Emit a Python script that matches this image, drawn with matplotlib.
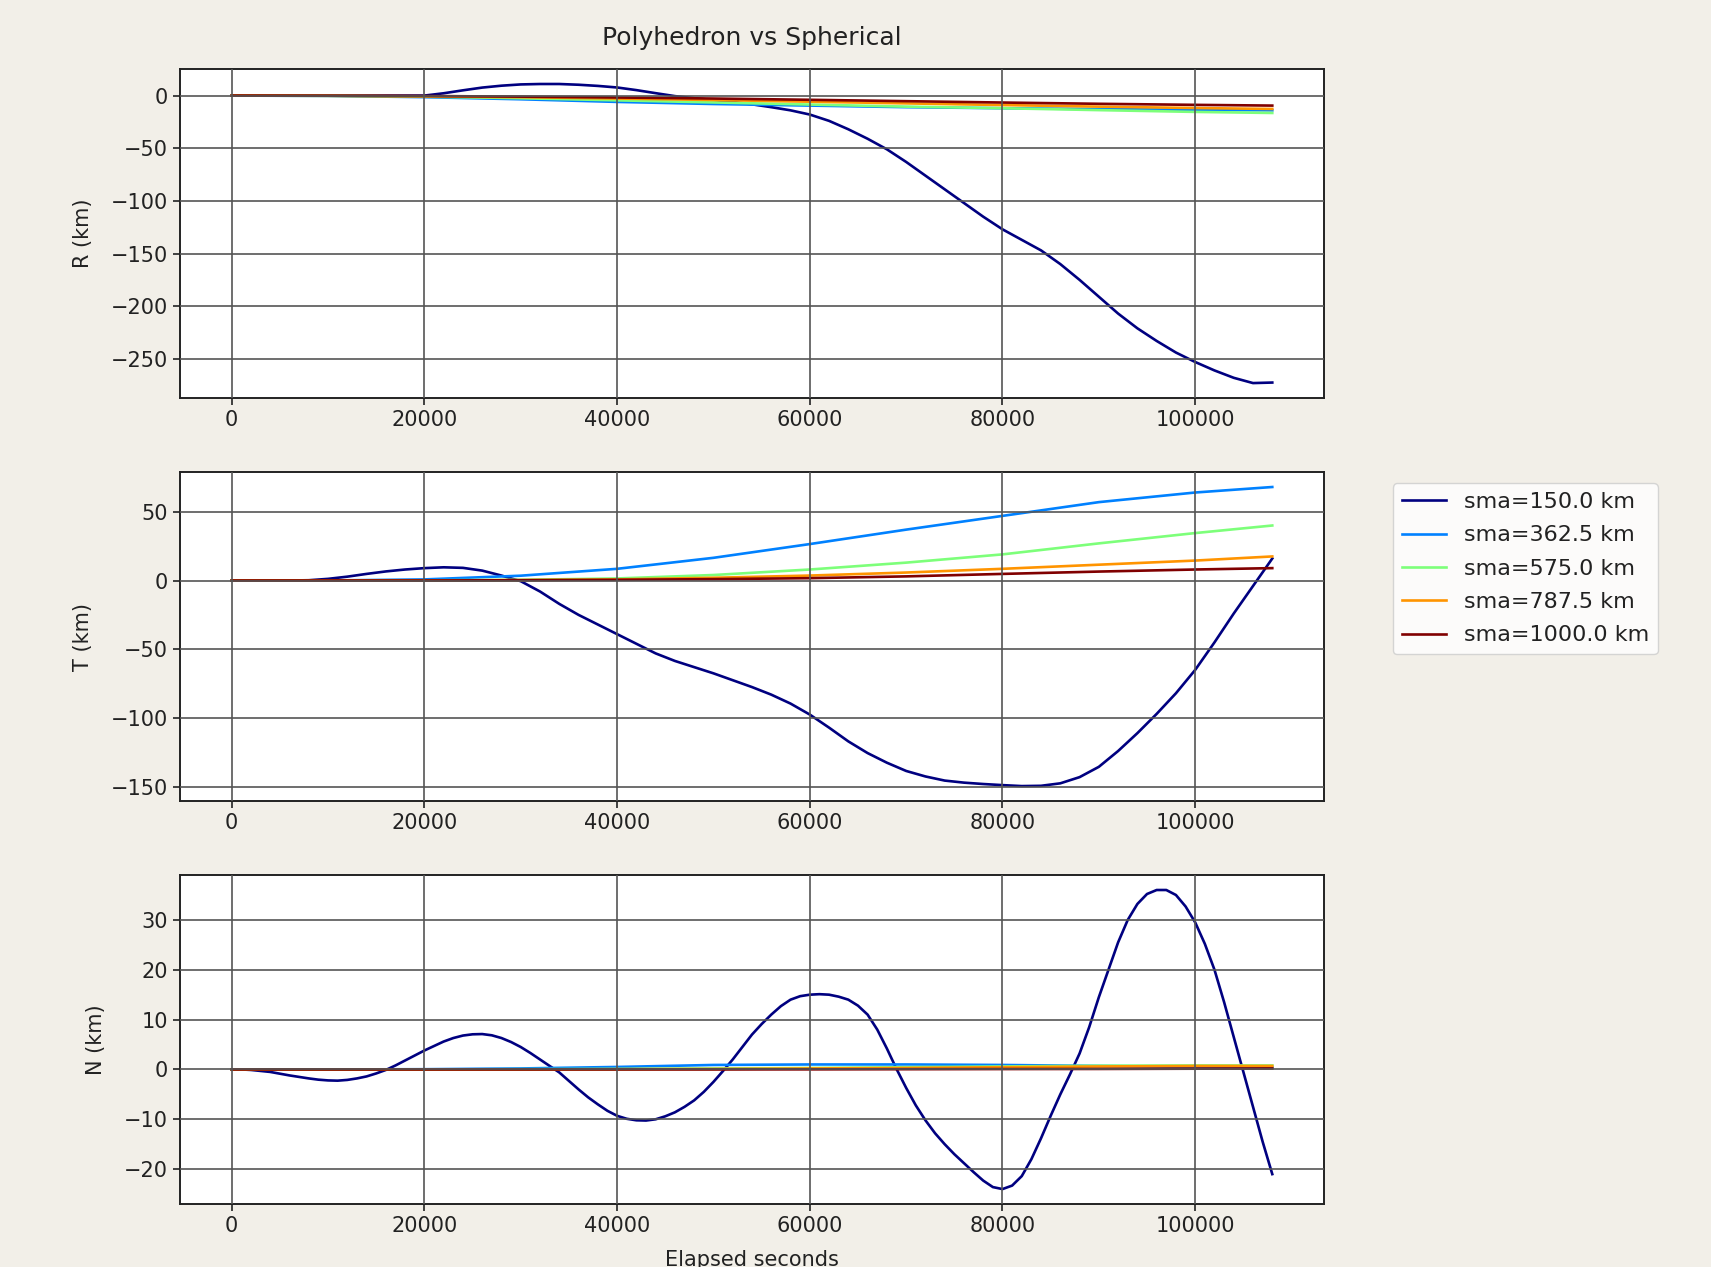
import numpy as np
import matplotlib
matplotlib.use("Agg")
import matplotlib.pyplot as plt
from matplotlib import cm

plt.rcParams['font.family'] = ['DejaVu Sans']
plt.rcParams['font.size'] = 15

# ---- data ----
sma_labels = ["sma=150.0 km", "sma=362.5 km", "sma=575.0 km", "sma=787.5 km", "sma=1000.0 km"]

t_fine = [0, 2000, 4000, 6000, 8000, 10000, 12000, 14000, 16000, 18000, 20000,
          22000, 24000, 26000, 28000, 30000, 32000, 34000, 36000, 38000, 40000,
          42000, 44000, 46000, 48000, 50000, 52000, 54000, 56000, 58000, 60000,
          62000, 64000, 66000, 68000, 70000, 72000, 74000, 76000, 78000, 80000,
          82000, 84000, 86000, 88000, 90000, 92000, 94000, 96000, 98000, 100000,
          102000, 104000, 106000, 108000]

t_n = [0, 1000, 2000, 3000, 4000, 5000, 6000, 7000, 8000, 9000,
       10000, 11000, 12000, 13000, 14000, 15000, 16000, 17000, 18000, 19000,
       20000, 21000, 22000, 23000, 24000, 25000, 26000, 27000, 28000, 29000,
       30000, 31000, 32000, 33000, 34000, 35000, 36000, 37000, 38000, 39000,
       40000, 41000, 42000, 43000, 44000, 45000, 46000, 47000, 48000, 49000,
       50000, 51000, 52000, 53000, 54000, 55000, 56000, 57000, 58000, 59000,
       60000, 61000, 62000, 63000, 64000, 65000, 66000, 67000, 68000, 69000,
       70000, 71000, 72000, 73000, 74000, 75000, 76000, 77000, 78000, 79000,
       80000, 81000, 82000, 83000, 84000, 85000, 86000, 87000, 88000, 89000,
       90000, 91000, 92000, 93000, 94000, 95000, 96000, 97000, 98000, 99000,
       100000, 101000, 102000, 103000, 104000, 105000, 106000, 107000, 108000]

t_coarse = [0, 10000, 20000, 30000, 40000, 50000, 60000, 70000, 80000, 90000, 100000, 108000]

# sma = 150 km
R_150 = [0, 0, 0, 0, 0, 0, 0, 0, 0, 0, 0,
         2.2, 5.0, 7.6, 9.4, 10.6, 11.0, 11.0, 10.3, 9.2, 7.7,
         5.2, 2.3, -0.5, -2.5, -4.2, -6.0, -8.3, -11.0, -14.0, -18.0,
         -24.0, -32.0, -41.0, -51.0, -63.0, -76.0, -89.0, -102.0, -115.0, -127.0,
         -137.0, -147.0, -160.0, -175.0, -191.0, -207.0, -221.0, -233.0, -244.0, -253.0,
         -261.0, -268.0, -273.0, -272.5]
T_150 = [0, 0, 0, 0, 0.2, 1.2, 2.8, 4.8, 6.6, 8.0, 9.0,
         9.6, 9.2, 7.2, 3.6, -0.5, -8.0, -17.0, -25.0, -32.0, -39.0,
         -46.0, -53.0, -58.5, -63.0, -67.5, -72.5, -77.5, -83.0, -89.5, -97.5,
         -107.0, -117.0, -125.5, -132.5, -138.5, -142.5, -145.5, -147.0, -148.0, -148.8,
         -149.5, -149.3, -147.5, -143.0, -135.5, -124.0, -111.0, -97.0, -82.0, -65.0,
         -45.0, -24.0, -4.0, 16.0]
N_150 = [0, 0, -0.1, -0.3, -0.5, -0.85, -1.2, -1.5, -1.8, -2.05,
         -2.2, -2.25, -2.1, -1.8, -1.4, -0.8, -0.1, 0.8, 1.8, 2.8,
         3.8, 4.7, 5.6, 6.3, 6.8, 7.05, 7.1, 6.85, 6.3, 5.5,
         4.5, 3.3, 2.0, 0.7, -0.6, -2.3, -4.0, -5.6, -7.0, -8.3,
         -9.3, -9.9, -10.2, -10.25, -10.0, -9.4, -8.6, -7.5, -6.2, -4.5,
         -2.5, -0.3, 2.0, 4.5, 7.0, 9.1, 11.0, 12.7, 14.0, 14.7,
         15.0, 15.1, 15.0, 14.6, 14.0, 12.8, 11.0, 8.0, 4.2, 0.1,
         -3.7, -7.2, -10.2, -12.8, -15.0, -17.0, -18.8, -20.6, -22.3, -23.6,
         -24.0, -23.3, -21.4, -18.0, -13.8, -9.3, -5.0, -1.0, 3.2, 8.5,
         14.5, 20.0, 25.5, 30.0, 33.2, 35.2, 36.0, 36.0, 35.0, 32.7,
         29.5, 25.2, 20.0, 13.5, 6.5, -0.5, -7.5, -14.5, -21.0]

# other sma values
R_362 = [0, -0.3, -1.5, -3.5, -6.0, -8.0, -9.5, -11.0, -12.0, -12.8, -13.5, -14.0]
R_575 = [0, -0.2, -1.0, -2.5, -4.5, -6.5, -8.5, -10.5, -12.0, -13.8, -15.5, -16.5]
R_787 = [0, -0.2, -0.7, -1.5, -2.8, -4.2, -5.8, -7.4, -9.0, -10.5, -11.8, -12.7]
R_1000 = [0, -0.1, -0.4, -1.0, -1.8, -2.8, -4.0, -5.3, -6.6, -7.8, -8.8, -9.5]

T_362 = [0, 0, 0.8, 3.5, 8.5, 16.5, 26.5, 37.0, 47.0, 57.0, 64.0, 68.0]
T_575 = [0, 0, 0.1, 0.5, 1.5, 4.0, 8.0, 13.0, 19.0, 27.0, 34.5, 40.0]
T_787 = [0, 0, 0, 0.3, 0.8, 2.0, 3.6, 5.8, 8.5, 11.5, 14.5, 17.5]
T_1000 = [0, 0, 0, 0.2, 0.5, 1.0, 1.7, 3.0, 4.8, 6.5, 8.0, 9.0]

N_362 = [0, 0, 0.05, 0.2, 0.5, 0.9, 1.0, 1.0, 0.9, 0.7, 0.5, 0.4]
N_575 = [0, 0, 0, 0.05, 0.1, 0.2, 0.3, 0.45, 0.6, 0.75, 0.8, 0.8]
N_787 = [0, 0, 0, 0, 0.05, 0.1, 0.2, 0.3, 0.45, 0.6, 0.7, 0.7]
N_1000 = [0, 0, 0, 0, 0, 0, 0.02, 0.05, 0.08, 0.1, 0.15, 0.2]

panels = [
    ("R (km)", t_fine, [R_150, R_362, R_575, R_787, R_1000]),
    ("T (km)", t_fine, [T_150, T_362, T_575, T_787, T_1000]),
    ("N (km)", t_n, [N_150, N_362, N_575, N_787, N_1000]),
]

colors = cm.jet(np.linspace(0, 1, 5))

bg = '#f2efe8'
fig, axes = plt.subplots(3, 1, figsize=(17.11, 12.67), dpi=100, facecolor=bg)
fig.subplots_adjust(left=0.105, right=0.774, top=0.9455, bottom=0.0497, hspace=0.225)

for ax, (ylab, tmain, series) in zip(axes, panels):
    ax.set_facecolor('white')
    for i, (vals, col, lab) in enumerate(zip(series, colors, sma_labels)):
        xs = tmain if i == 0 else t_coarse
        ax.plot(xs, vals, color=col, lw=1.9, label=lab, solid_joinstyle='round')
    ax.set_ylabel(ylab, color='#222222', labelpad=13)
    ax.grid(True, color='#555555', lw=1.2)
    ax.set_axisbelow(False)
    ax.tick_params(colors='#222222', labelsize=15, length=5, width=1.2)
    for sp in ax.spines.values():
        sp.set_color('#222222')
        sp.set_linewidth(1.4)

axes[0].set_yticks([0, -50, -100, -150, -200, -250])
axes[1].set_yticks([50, 0, -50, -100, -150])
axes[2].set_yticks([30, 20, 10, 0, -10, -20])

axes[0].set_title("Polyhedron vs Spherical", fontsize=18, pad=17, color='#222222')
axes[2].set_xlabel("Elapsed seconds", color='#222222', labelpad=10)

leg = axes[1].legend(loc='upper left', bbox_to_anchor=(1.05, 1.0), fontsize=16,
                     labelspacing=0.6, frameon=True, fancybox=True)
leg.get_frame().set_edgecolor('#cccccc')
for txt in leg.get_texts():
    txt.set_color('#222222')

fig.savefig("out.png", dpi=100, facecolor=bg)
